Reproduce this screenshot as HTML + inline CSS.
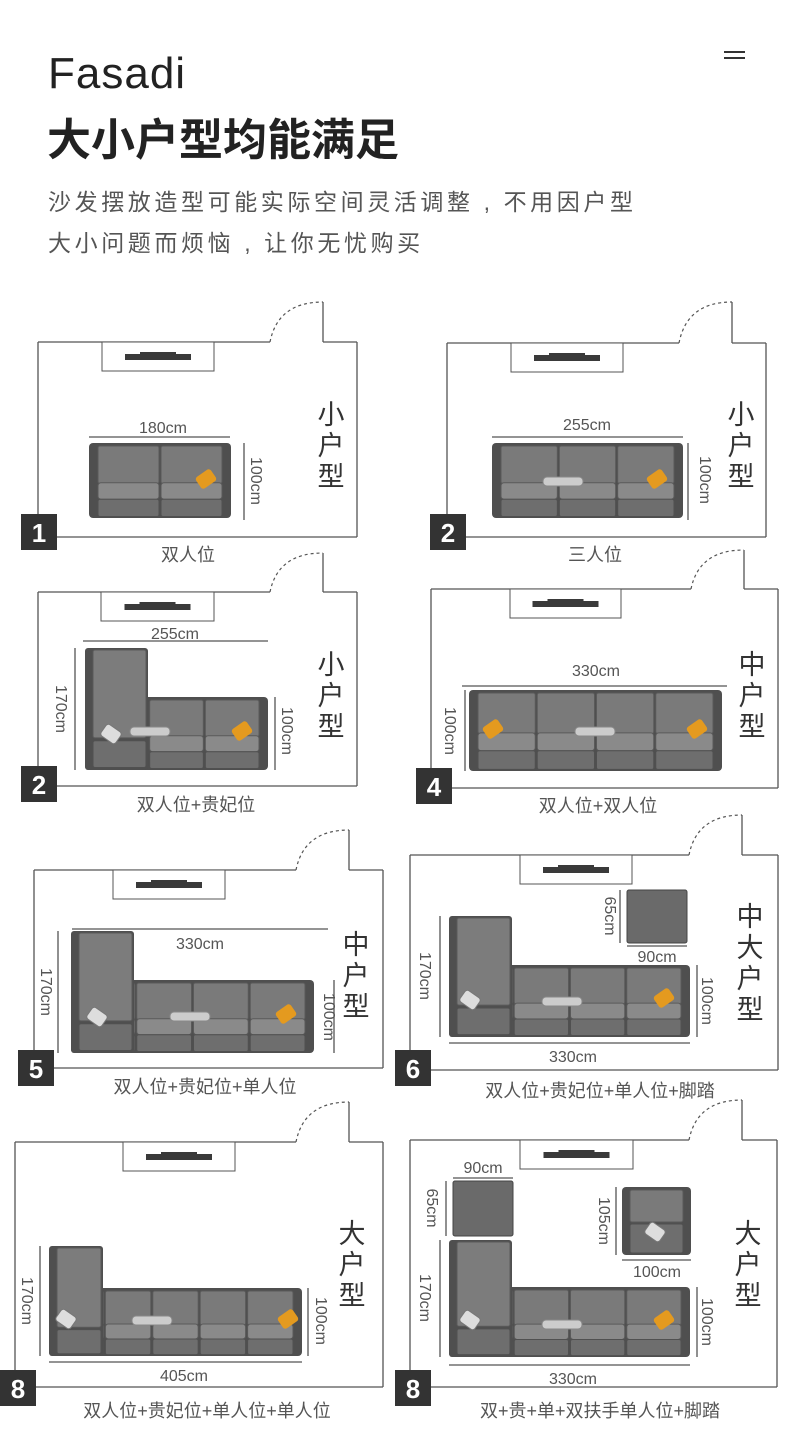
<!DOCTYPE html>
<html><head><meta charset="utf-8">
<style>
html,body{margin:0;padding:0;background:#fff;}
body{width:790px;height:1449px;overflow:hidden;position:relative;font-family:"Liberation Sans","Noto Sans CJK SC",sans-serif;}
svg text{font-family:"Liberation Sans","Noto Sans CJK SC",sans-serif;}
</style></head><body>
<svg id="s" width="790" height="1449" viewBox="0 0 790 1449" xmlns="http://www.w3.org/2000/svg" style="position:absolute;left:0;top:0">
<g id="shapes"></g>
<text x="48" y="88" font-size="44" fill="#222" font-weight="300" letter-spacing="1">Fasadi</text>
<line x1="724" y1="52" x2="745" y2="52" stroke="#333" stroke-width="2"/>
<line x1="724" y1="58" x2="745" y2="58" stroke="#333" stroke-width="2"/>
<text x="47" y="155" font-size="44" fill="#222" font-weight="bold" font-family="Noto Sans CJK SC, sans-serif">大小户型均能满足</text>
<text x="48" y="210" font-size="23" fill="#555" letter-spacing="3.6">沙发摆放造型可能实际空间灵活调整 , 不用因户型</text>
<text x="48" y="251" font-size="23" fill="#555" letter-spacing="3.6">大小问题而烦恼 , 让你无忧购买</text>

<g fill="#555" font-size="16" text-anchor="middle">
<text x="163" y="433">180cm</text>
<text transform="translate(251,481) rotate(90)" >100cm</text>
<text x="188" y="561" font-size="18">双人位</text>
<text x="587" y="430">255cm</text>
<text transform="translate(700,480) rotate(90)">100cm</text>
<text x="595" y="561" font-size="18">三人位</text>
<text x="175" y="639">255cm</text>
<text transform="translate(56,709) rotate(90)">170cm</text>
<text transform="translate(282,731) rotate(90)">100cm</text>
<text x="196" y="811" font-size="18">双人位+贵妃位</text>
<text x="596" y="676">330cm</text>
<text transform="translate(445,731) rotate(90)">100cm</text>
<text x="598" y="812" font-size="18">双人位+双人位</text>
<text x="200" y="949">330cm</text>
<text transform="translate(41,992) rotate(90)">170cm</text>
<text transform="translate(324,1017) rotate(90)">100cm</text>
<text x="205" y="1093" font-size="18">双人位+贵妃位+单人位</text>
<text transform="translate(605,916) rotate(90)">65cm</text>
<text x="657" y="962">90cm</text>
<text transform="translate(420,976) rotate(90)">170cm</text>
<text transform="translate(702,1001) rotate(90)">100cm</text>
<text x="573" y="1062">330cm</text>
<text x="600" y="1097" font-size="18">双人位+贵妃位+单人位+脚踏</text>
<text transform="translate(22,1301) rotate(90)">170cm</text>
<text transform="translate(316,1321) rotate(90)">100cm</text>
<text x="184" y="1381">405cm</text>
<text x="207" y="1417" font-size="18">双人位+贵妃位+单人位+单人位</text>
<text x="483" y="1173">90cm</text>
<text transform="translate(427,1208) rotate(90)">65cm</text>
<text transform="translate(599,1221) rotate(90)">105cm</text>
<text x="657" y="1277">100cm</text>
<text transform="translate(420,1298) rotate(90)">170cm</text>
<text transform="translate(702,1322) rotate(90)">100cm</text>
<text x="573" y="1384">330cm</text>
<text x="600" y="1417" font-size="18">双+贵+单+双扶手单人位+脚踏</text>
</g>

<g fill="#333" font-size="27" text-anchor="middle" font-family="Noto Serif CJK SC, serif">
<text x="331" y="424">小</text><text x="331" y="455">户</text><text x="331" y="486">型</text>
<text x="741" y="424">小</text><text x="741" y="455">户</text><text x="741" y="486">型</text>
<text x="331" y="674">小</text><text x="331" y="705">户</text><text x="331" y="736">型</text>
<text x="752" y="674">中</text><text x="752" y="705">户</text><text x="752" y="736">型</text>
<text x="356" y="954">中</text><text x="356" y="985">户</text><text x="356" y="1016">型</text>
<text x="750" y="926">中</text><text x="750" y="957">大</text><text x="750" y="988">户</text><text x="750" y="1019">型</text>
<text x="352" y="1243">大</text><text x="352" y="1274">户</text><text x="352" y="1305">型</text>
<text x="748" y="1243">大</text><text x="748" y="1274">户</text><text x="748" y="1305">型</text>
</g>

<g fill="#fff" font-size="26" text-anchor="middle" font-weight="bold">
<rect x="21" y="514" width="36" height="36" fill="#333"/><text x="39" y="542">1</text>
<rect x="430" y="514" width="36" height="36" fill="#333"/><text x="448" y="542">2</text>
<rect x="21" y="766" width="36" height="36" fill="#333"/><text x="39" y="794">2</text>
<rect x="416" y="768" width="36" height="36" fill="#333"/><text x="434" y="796">4</text>
<rect x="18" y="1050" width="36" height="36" fill="#333"/><text x="36" y="1078">5</text>
<rect x="395" y="1050" width="36" height="36" fill="#333"/><text x="413" y="1078">6</text>
<rect x="0" y="1370" width="36" height="36" fill="#333"/><text x="18" y="1398">8</text>
<rect x="395" y="1370" width="36" height="36" fill="#333"/><text x="413" y="1398">8</text>
</g>
</svg>
<script>
var g=document.getElementById('shapes'),h='';
function L(a,b,c,d,st){h+='<line x1="'+a+'" y1="'+b+'" x2="'+c+'" y2="'+d+'" stroke="#555" stroke-width="1.3" '+(st||'')+'/>';}
function R(x,y,w,hh,f,s,rx){h+='<rect x="'+x+'" y="'+y+'" width="'+w+'" height="'+hh+'" fill="'+f+'" stroke="'+(s||'none')+'" stroke-width="1" rx="'+(rx||0)+'"/>';}
function room(x1,y1,x2,y2,dx,dtop,tv1,tv2){
 var gx=dx-53;
 L(x1,y1,gx,y1);L(x1,y1,x1,y2);L(x1,y2,x2,y2);L(x2,y1,x2,y2);L(dx,y1,x2,y1);L(dx,dtop,dx,y1);
 h+='<path d="M'+gx+' '+y1+' Q'+(gx+8)+' '+dtop+' '+dx+' '+dtop+'" fill="none" stroke="#555" stroke-width="1.2" stroke-dasharray="3,3"/>';
 R(tv1,y1,tv2-tv1,29,'#fff','#555');
 var c=(tv1+tv2)/2;R(c-33,y1+12,66,6,'#3a3a3a');R(c-18,y1+10,36,3,'#3a3a3a');
}
function pillow(x,y,col){h+='<rect x="'+(x-9)+'" y="'+(y-7)+'" width="18" height="14" rx="3" fill="'+col+'" transform="rotate(-35 '+x+' '+y+')"/>';}
function sofa(x,y,w,hh,n){
 R(x,y,w,hh,'#4f4f4f',null,4);
 var a=8,iw=w-2*a,cw=iw/n;
 for(var i=0;i<n;i++){
  var cx=x+a+i*cw;
  R(cx+1,y+3,cw-2,hh*0.5,'#7a7a7a','#5a5a5a',2);
  R(cx+1,y+hh*0.53,cw-2,hh*0.22,'#8a8a8a','#5a5a5a',3);
  R(cx+1,y+hh*0.75,cw-2,hh*0.23,'#6e6e6e','#505050',2);
 }
}
function chaise(x,y,w,bottom){
 var hh=bottom-y;
 R(x,y,w,hh,'#4f4f4f',null,3);
 R(x+8,y+2,w-10,hh*0.72,'#7c7c7c','#5a5a5a',2);
 R(x+8,y+hh*0.76,w-10,hh*0.22,'#6e6e6e','#505050',2);
}
function dimH(x1,x2,y){L(x1,y,x2,y);}
function dimV(x,y1,y2){L(x,y1,x,y2);}
function pillowW(x,y){h+='<rect x="'+(x-20)+'" y="'+(y-4)+'" width="40" height="9" rx="4" fill="#ccc" stroke="#888"/>';}
function pillowC(x,y){h+='<rect x="'+(x-9)+'" y="'+(y-7)+'" width="18" height="14" rx="3" fill="#ddd" stroke="#777" transform="rotate(35 '+x+' '+y+')"/>';}
var O='#e49a1f';
room(38,342,357,537,323,302,102,214);
sofa(89,443,142,75,2);pillow(206,479,O);dimH(89,230,437);dimV(244,443,520);
room(447,343,766,537,732,302,511,623);
sofa(492,443,191,75,3);pillowW(563,481);pillow(657,479,O);dimH(492,683,437);dimV(688,443,520);
room(38,592,357,786,323,553,101,214);
sofa(85,697,183,73,3);chaise(85,648,63,770);pillowC(111,734);pillowW(150,731);pillow(242,731,O);dimH(83,268,641);dimV(75,648,770);dimV(275,697,770);
room(431,589,778,788,744,550,510,621);
sofa(469,690,253,81,4);pillow(493,729,O);pillowW(595,731);pillow(697,729,O);dimH(462,727,686);dimV(465,690,771);
room(34,870,383,1068,349,830,113,225);
sofa(71,980,243,73,4);chaise(71,931,63,1053);pillowC(97,1017);pillowW(190,1016);pillow(286,1014,O);dimH(72,328,929);dimV(58,931,1053);dimV(334,980,1053);
room(410,855,778,1070,742,815,520,632);
R(627,890,60,53,'#6a6a6a','#444',2);dimV(620,890,943);dimH(627,687,946);
sofa(449,965,241,72,4);chaise(449,916,63,1037);pillowC(470,1000);pillowW(562,1001);pillow(664,998,O);dimV(440,916,1037);dimV(697,965,1037);dimH(449,690,1043);
room(15,1142,383,1387,349,1102,123,235);
sofa(49,1288,253,68,5);chaise(49,1246,54,1356);pillowC(66,1319);pillowW(152,1320);pillow(288,1319,O);dimV(40,1246,1356);dimV(308,1288,1356);dimH(49,302,1362);
room(410,1140,777,1387,742,1100,520,633);
R(453,1181,60,55,'#6a6a6a','#444',2);dimH(453,513,1178);dimV(446,1181,1236);
R(622,1187,69,68,'#4f4f4f',null,4);R(630,1190,53,32,'#7a7a7a','#5a5a5a',2);R(630,1224,53,29,'#6e6e6e','#505050',2);pillowC(655,1232);dimV(616,1187,1255);dimH(622,691,1260);
sofa(449,1287,241,70,4);chaise(449,1240,63,1357);pillowC(470,1320);pillowW(562,1324);pillow(664,1320,O);dimV(440,1240,1357);dimV(697,1287,1357);dimH(449,690,1365);
g.innerHTML=h;
</script>
</body></html>
